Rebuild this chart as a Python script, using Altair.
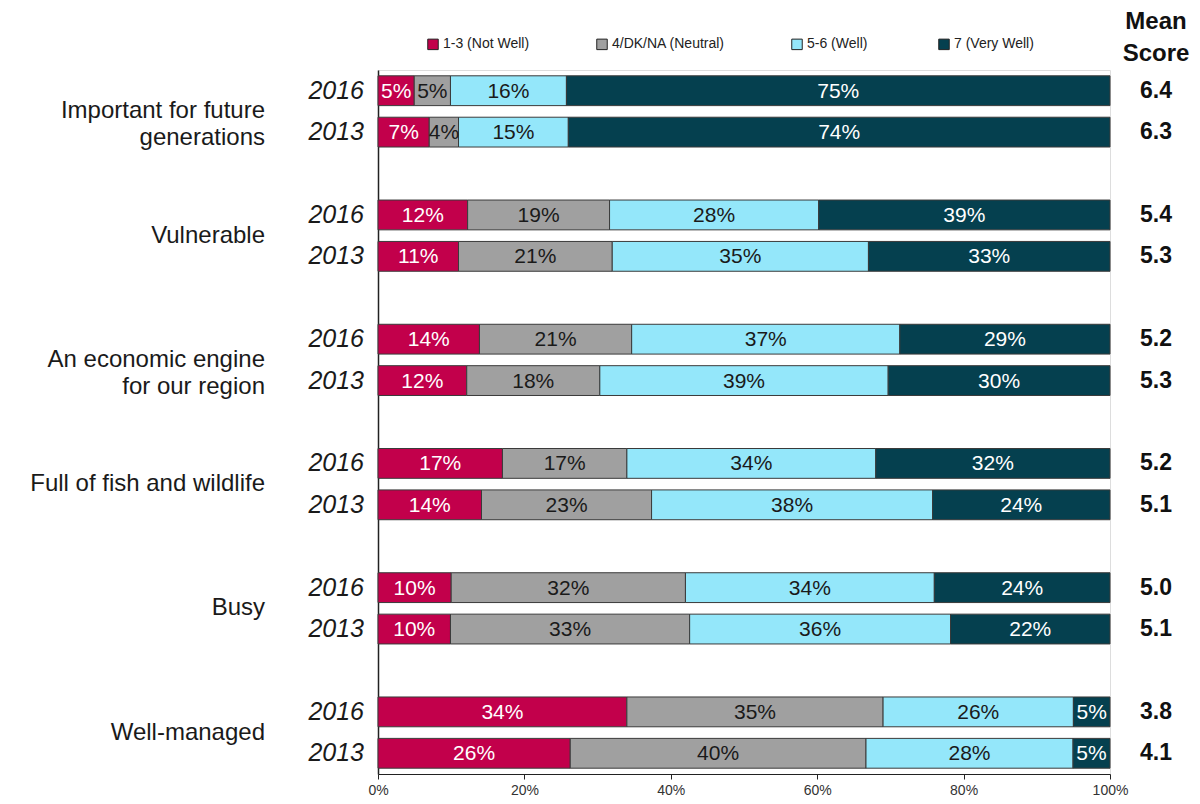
import altair as alt
import pandas as pd

categories = ["Important  for future\ngenerations", "Vulnerable", "An economic  engine\nfor our region",
              "Full of fish and wildlife", "Busy", "Well-managed"]
years = ["2016", "2013"]
levels = ["1-3 (Not Well)", "4/DK/NA (Neutral)", "5-6  (Well)", "7 (Very Well)"]
colors = ["#C2004B", "#A0A0A0", "#94E7FA", "#05404F"]
text_colors = ["white", "#1a1a1a", "#1a1a1a", "white"]

not_well = [5, 7, 12, 11, 14, 12, 17, 14, 10, 10, 34, 26]
neutral = [5, 4, 19, 21, 21, 18, 17, 23, 32, 33, 35, 40]
well = [16, 15, 28, 35, 37, 39, 34, 38, 34, 36, 26, 28]
very_well = [75, 74, 39, 33, 29, 30, 32, 24, 24, 22, 5, 5]
mean_score = [6.4, 6.3, 5.4, 5.3, 5.2, 5.3, 5.2, 5.1, 5.0, 5.1, 3.8, 4.1]

series = [not_well, neutral, well, very_well]

rows = []
bar_rows = []
for gi, cat in enumerate(categories):
    for yi, yr in enumerate(years):
        idx = gi * 2 + yi
        pos = gi * 3 + yi
        bar_rows.append({"row": idx, "pos": pos, "year": yr, "mean": mean_score[idx]})
        for li, lev in enumerate(levels):
            rows.append({"row": idx, "pos": pos, "level": lev, "order": li,
                         "v": series[li][idx], "tcol": text_colors[li]})
df = pd.DataFrame(rows)
df_rows = pd.DataFrame(bar_rows)
df_cat = pd.DataFrame({"cat": categories, "pos": [g * 3 + 0.5 for g in range(len(categories))]})

W, H = 732, 704
yscale = alt.Scale(domain=[-0.5, 16.5], reverse=True, nice=False, zero=False)
xscale = alt.Scale(domain=[0, 1], nice=False)

base = alt.Chart(df).transform_joinaggregate(
    total="sum(v)", groupby=["row"]
).transform_window(
    cum="sum(v)", sort=[alt.SortField("order")], groupby=["row"], frame=[None, 0]
).transform_calculate(
    x0="(datum.cum - datum.v) / datum.total",
    x1="datum.cum / datum.total",
    xm="(datum.cum - datum.v / 2) / datum.total",
    y0="datum.pos - 0.36",
    y1="datum.pos + 0.36",
    lbl="datum.v + '%'",
)

bars = base.mark_bar(stroke="#3a3a3a", strokeWidth=1).encode(
    x=alt.X("x0:Q", scale=xscale,
            axis=alt.Axis(format=".0%", values=[0, 0.2, 0.4, 0.6, 0.8, 1.0], title=None,
                          grid=False, domainColor="#222", tickColor="#222", tickSize=5,
                          labelFont="Liberation Sans", labelFontSize=14, labelColor="#333",
                          labelPadding=4, labelFlush=False)),
    x2="x1:Q",
    y=alt.Y("y0:Q", scale=yscale,
            axis=alt.Axis(labels=False, ticks=False, grid=False, title=None,
                          domainColor="#222", domainWidth=1.5)),
    y2="y1:Q",
    color=alt.Color("level:N", scale=alt.Scale(domain=levels, range=colors),
                    legend=alt.Legend(title=None, orient="none", direction="horizontal",
                                      legendX=48, legendY=-33, symbolType="square",
                                      symbolSize=110, symbolStrokeColor="#222",
                                      symbolStrokeWidth=1, labelFont="Liberation Sans",
                                      labelFontSize=14, labelColor="#222",
                                      columnPadding=64, labelOffset=3)),
)

labels = base.mark_text(font="Liberation Sans", fontSize=21, baseline="middle", dy=1).encode(
    x=alt.X("xm:Q", scale=xscale),
    y=alt.Y("pos:Q", scale=yscale),
    text="lbl:N",
    color=alt.Color("tcol:N", scale=None),
)

year_text = alt.Chart(df_rows).mark_text(
    font="Liberation Sans", fontSize=25, fontStyle="italic", align="right",
    baseline="middle", color="#1a1a1a"
).encode(x=alt.value(-14), y=alt.Y("pos:Q", scale=yscale), text="year:N")

mean_text = alt.Chart(df_rows).mark_text(
    font="Liberation Sans", fontSize=23, fontWeight="bold", align="center",
    baseline="middle", color="#111"
).encode(x=alt.value(W + 46), y=alt.Y("pos:Q", scale=yscale),
         text=alt.Text("mean:Q", format=".1f"))

cat_text = alt.Chart(df_cat).mark_text(
    font="Liberation Sans", fontSize=24, align="right", baseline="middle",
    lineBreak="\n", lineHeight=27, color="#1a1a1a"
).encode(x=alt.value(-113), y=alt.Y("pos:Q", scale=yscale), text="cat:N")

header = alt.Chart(pd.DataFrame({"t": ["Mean\nScore"]})).mark_text(
    font="Liberation Sans", fontSize=24, fontWeight="bold", align="center",
    baseline="middle", lineBreak="\n", lineHeight=32, color="#111"
).encode(x=alt.value(W + 46), y=alt.value(-48), text="t:N")

chart = alt.layer(bars, labels, year_text, mean_text, cat_text, header).properties(
    width=W, height=H,
    autosize=alt.AutoSizeParams(type="none"),
    padding={"left": 370, "top": 62, "right": 82, "bottom": 30},
).configure_view(stroke=None).configure(background="white")

chart.save("out.html", embed_options={"renderer": "svg", "actions": False})
